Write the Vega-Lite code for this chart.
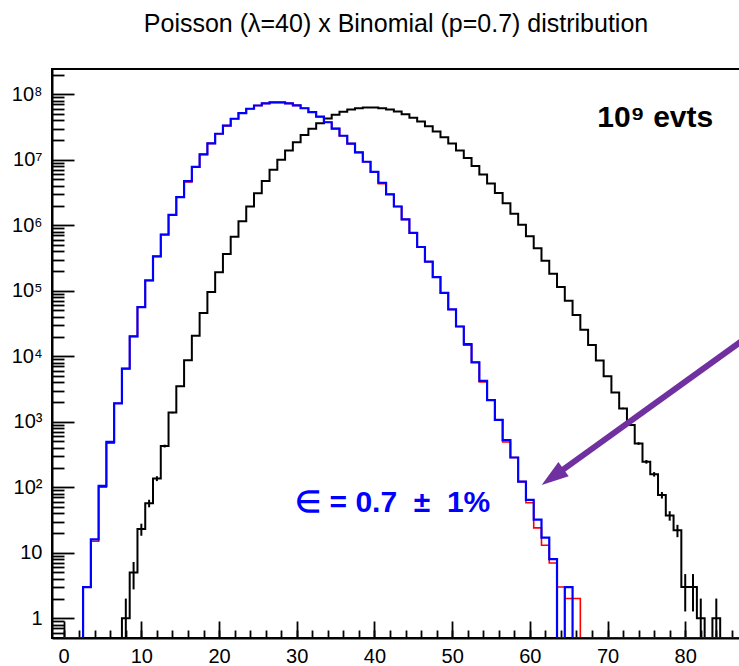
{
  "$schema": "https://vega.github.io/schema/vega-lite/v6.json",
  "width": 688,
  "height": 569,
  "autosize": {"type": "none"},
  "padding": {"left": 52, "top": 69, "right": 0, "bottom": 28},
  "background": "white",
  "title": {"text": "Poisson (λ=40) x Binomial (p=0.7) distribution", "font": "Liberation Sans", "fontSize": 25, "fontWeight": "normal", "color": "black", "anchor": "middle", "baseline": "alphabetic", "offset": 12},
  "config": {"font": "Liberation Sans", "view": {"stroke": "black", "strokeWidth": 2}},
  "resolve": {"axis": {"x": "independent", "y": "independent"}},
  "datasets": {
    "black": [
      {"k":0,"n":0},{"k":1,"n":0},{"k":2,"n":0},{"k":3,"n":0},{"k":4,"n":0},{"k":5,"n":0},{"k":6,"n":0},{"k":7,"n":0},
      {"k":8,"n":1},{"k":9,"n":5},{"k":10,"n":23},{"k":11,"n":57},{"k":12,"n":136},{"k":13,"n":426},{"k":14,"n":1380},
      {"k":15,"n":3488},{"k":16,"n":8721},{"k":17,"n":20521},{"k":18,"n":45602},{"k":19,"n":96004},{"k":20,"n":192008},
      {"k":21,"n":365730},{"k":22,"n":664964},{"k":23,"n":1156459},{"k":24,"n":1927431},{"k":25,"n":3083890},
      {"k":26,"n":4744446},{"k":27,"n":7028809},{"k":28,"n":10041156},{"k":29,"n":13849870},{"k":30,"n":18466493},
      {"k":31,"n":23827733},{"k":32,"n":29784666},{"k":33,"n":36102626},{"k":34,"n":42473678},{"k":35,"n":48541346},
      {"k":36,"n":53934829},{"k":37,"n":58307924},{"k":38,"n":61376762},{"k":39,"n":62950525},{"k":40,"n":62950525},
      {"k":41,"n":61415146},{"k":42,"n":58490615},{"k":43,"n":54409874},{"k":44,"n":49463522},{"k":45,"n":43967575},
      {"k":46,"n":38232674},{"k":47,"n":32538446},{"k":48,"n":27115372},{"k":49,"n":22134998},{"k":50,"n":17707998},
      {"k":51,"n":13888626},{"k":52,"n":10683559},{"k":53,"n":8063063},{"k":54,"n":5972639},{"k":55,"n":4343737},
      {"k":56,"n":3102669},{"k":57,"n":2177312},{"k":58,"n":1501595},{"k":59,"n":1018031},{"k":60,"n":678687},
      {"k":61,"n":445041},{"k":62,"n":287123},{"k":63,"n":182300},{"k":64,"n":113938},{"k":65,"n":70115},
      {"k":66,"n":42494},{"k":67,"n":25369},{"k":68,"n":14923},{"k":69,"n":8651},{"k":70,"n":4943},
      {"k":71,"n":2800},{"k":72,"n":1600},{"k":73,"n":890},{"k":74,"n":465},{"k":75,"n":245},
      {"k":76,"n":158},{"k":77,"n":76},{"k":78,"n":37},{"k":79,"n":22},{"k":80,"n":3},
      {"k":81,"n":3},{"k":82,"n":1},{"k":83,"n":0},{"k":84,"n":1},{"k":85,"n":0},{"k":86,"n":0},{"k":87,"n":0},{"k":88,"n":0}
    ],
    "blackErr": [
      {"k":8,"lo":0,"hi":2},{"k":9,"lo":2.76,"hi":7.24},{"k":10,"lo":18.2,"hi":27.8},{"k":11,"lo":49.5,"hi":64.5},
      {"k":12,"lo":124.3,"hi":147.7},{"k":13,"lo":405,"hi":447},{"k":14,"lo":1343,"hi":1417},{"k":15,"lo":3429,"hi":3547},
      {"k":16,"lo":8628,"hi":8814},{"k":68,"lo":14801,"hi":15045},{"k":69,"lo":8558,"hi":8744},{"k":70,"lo":4873,"hi":5013},
      {"k":71,"lo":2747,"hi":2853},{"k":72,"lo":1560,"hi":1640},{"k":73,"lo":860,"hi":920},{"k":74,"lo":443.4,"hi":486.6},
      {"k":75,"lo":229.3,"hi":260.7},{"k":76,"lo":145.4,"hi":170.6},{"k":77,"lo":67.3,"hi":84.7},{"k":78,"lo":30.9,"hi":43.1},
      {"k":79,"lo":17.3,"hi":26.7},{"k":80,"lo":1.27,"hi":4.73},{"k":81,"lo":1.27,"hi":4.73},{"k":82,"lo":0,"hi":2},{"k":84,"lo":0,"hi":2}
    ],
    "red": [
      {"k":0,"n":0},{"k":1,"n":0},{"k":2,"n":0},{"k":3,"n":3},{"k":4,"n":15},{"k":5,"n":100},{"k":6,"n":470},{"k":7,"n":1915},
      {"k":8,"n":6478},{"k":9,"n":20155},{"k":10,"n":56434},{"k":11,"n":143650},{"k":12,"n":335184},{"k":13,"n":721935},
      {"k":14,"n":1443870},{"k":15,"n":2695224},{"k":16,"n":4600000},{"k":17,"n":7768587},{"k":18,"n":12084469},
      {"k":19,"n":17808691},{"k":20,"n":24932167},{"k":21,"n":33242889},{"k":22,"n":42309131},{"k":23,"n":51506333},
      {"k":24,"n":60090722},{"k":25,"n":67301609},{"k":26,"n":72478656},{"k":27,"n":75162680},{"k":28,"n":75162680},
      {"k":29,"n":72570864},{"k":30,"n":67732806},{"k":31,"n":61177373},{"k":32,"n":53530201},{"k":33,"n":45419262},
      {"k":34,"n":37404098},{"k":35,"n":29923278},{"k":36,"n":23273661},{"k":37,"n":17612500},{"k":38,"n":12977632},
      {"k":39,"n":9317274},{"k":40,"n":6522092},{"k":41,"n":4300000},{"k":42,"n":2969408},{"k":43,"n":1933568},
      {"k":44,"n":1230452},{"k":45,"n":765614},{"k":46,"n":466026},{"k":47,"n":277633},{"k":48,"n":161953},
      {"k":49,"n":92545},{"k":50,"n":51825},{"k":51,"n":28453},{"k":52,"n":14800},{"k":53,"n":8094},{"k":54,"n":4050},
      {"k":55,"n":2137},{"k":56,"n":1068},{"k":57,"n":490},{"k":58,"n":285},{"k":59,"n":122},{"k":60,"n":58},
      {"k":61,"n":24},{"k":62,"n":13},{"k":63,"n":7},{"k":64,"n":3},{"k":65,"n":2},{"k":66,"n":2},{"k":67,"n":0},
      {"k":68,"n":0},{"k":69,"n":0},{"k":70,"n":0},{"k":75,"n":0},{"k":80,"n":0},{"k":85,"n":0},{"k":88,"n":0}
    ],
    "blue": [
      {"k":0,"n":0},{"k":1,"n":0},{"k":2,"n":0},{"k":3,"n":3},{"k":4,"n":16},{"k":5,"n":105},{"k":6,"n":494},{"k":7,"n":1915},
      {"k":8,"n":6478},{"k":9,"n":20155},{"k":10,"n":56434},{"k":11,"n":143650},{"k":12,"n":335184},{"k":13,"n":721935},
      {"k":14,"n":1443870},{"k":15,"n":2695224},{"k":16,"n":4716642},{"k":17,"n":7768587},{"k":18,"n":12084469},
      {"k":19,"n":17808691},{"k":20,"n":24932167},{"k":21,"n":33242889},{"k":22,"n":42309131},{"k":23,"n":51506333},
      {"k":24,"n":60090722},{"k":25,"n":67301609},{"k":26,"n":72478656},{"k":27,"n":75162680},{"k":28,"n":75162680},
      {"k":29,"n":72570864},{"k":30,"n":67732806},{"k":31,"n":61177373},{"k":32,"n":53530201},{"k":33,"n":45419262},
      {"k":34,"n":37404098},{"k":35,"n":29923278},{"k":36,"n":23273661},{"k":37,"n":17612500},{"k":38,"n":12977632},
      {"k":39,"n":9317274},{"k":40,"n":6522092},{"k":41,"n":4454112},{"k":42,"n":2969408},{"k":43,"n":1933568},
      {"k":44,"n":1230452},{"k":45,"n":765614},{"k":46,"n":466026},{"k":47,"n":277633},{"k":48,"n":161953},
      {"k":49,"n":92545},{"k":50,"n":51825},{"k":51,"n":28453},{"k":52,"n":15321},{"k":53,"n":8094},{"k":54,"n":4197},
      {"k":55,"n":2137},{"k":56,"n":1068},{"k":57,"n":525},{"k":58,"n":285},{"k":59,"n":122},{"k":60,"n":64},
      {"k":61,"n":32},{"k":62,"n":17},{"k":63,"n":8},{"k":64,"n":0},{"k":65,"n":3},{"k":66,"n":0},{"k":67,"n":0},
      {"k":68,"n":0},{"k":69,"n":0},{"k":70,"n":0},{"k":75,"n":0},{"k":80,"n":0},{"k":85,"n":0},{"k":88,"n":0}
    ]
  },
  "layer": [
    {
      "data": {"name": "black"},
      "mark": {"type": "line", "interpolate": "step", "color": "black", "strokeWidth": 2, "clip": true},
      "encoding": {
        "x": {"field": "k", "type": "quantitative",
              "scale": {"domain": [-1.5, 87.05], "nice": false, "zero": false},
              "axis": {"title": null, "grid": false, "orient": "bottom", "values": [0,10,20,30,40,50,60,70,80],
                       "tickSize": -17, "tickColor": "black", "tickWidth": 1.8, "domainColor": "black", "domainWidth": 2,
                       "labelFont": "Liberation Sans", "labelFontSize": 20, "labelColor": "black", "labelPadding": 25,
                       "labelOverlap": false, "labelFlush": false}},
        "y": {"field": "n", "type": "quantitative",
              "scale": {"type": "log", "domain": [0.5, 243000000], "nice": false, "clamp": true},
              "axis": {"title": null, "grid": false, "orient": "left",
                       "values": [1,10,100,1000,10000,100000,1000000,10000000,100000000],
                       "tickSize": -22, "tickColor": "black", "tickWidth": 1.8, "domainColor": "black", "domainWidth": 2,
                       "labelFont": "Liberation Sans", "labelFontSize": 20, "labelColor": "black", "labelPadding": 32,
                       "labelOverlap": false, "labelFlush": false,
                       "labelExpr": "round(log(datum.value)/LN10) == 0 ? '1' : (round(log(datum.value)/LN10) == 1 ? '10' : '10' + substring('⁰¹²³⁴⁵⁶⁷⁸⁹', round(log(datum.value)/LN10), round(log(datum.value)/LN10) + 1))"}}
      }
    },
    {
      "data": {"name": "blackErr"},
      "mark": {"type": "rule", "color": "black", "strokeWidth": 2, "clip": true},
      "encoding": {
        "x": {"field": "k", "type": "quantitative", "scale": {"domain": [-1.5, 87.05], "nice": false, "zero": false},
              "axis": {"title": null, "grid": false, "orient": "bottom", "labels": false, "domain": false,
                       "values": [0,2,4,6,8,10,12,14,16,18,20,22,24,26,28,30,32,34,36,38,40,42,44,46,48,50,52,54,56,58,60,62,64,66,68,70,72,74,76,78,80,82,84,86],
                       "tickSize": -8, "tickColor": "black", "tickWidth": 1.8}},
        "y": {"field": "lo", "type": "quantitative", "scale": {"type": "log", "domain": [0.5, 243000000], "nice": false, "clamp": true},
              "axis": {"title": null, "grid": false, "orient": "left", "labels": false, "domain": false,
                       "values": [0.6,0.7,0.8,0.9,2,3,4,5,6,7,8,9,20,30,40,50,60,70,80,90,200,300,400,500,600,700,800,900,2000,3000,4000,5000,6000,7000,8000,9000,20000,30000,40000,50000,60000,70000,80000,90000,200000,300000,400000,500000,600000,700000,800000,900000,2000000,3000000,4000000,5000000,6000000,7000000,8000000,9000000,20000000,30000000,40000000,50000000,60000000,70000000,80000000,90000000,200000000],
                       "tickSize": -12, "tickColor": "black", "tickWidth": 1.8}},
        "y2": {"field": "hi"}
      }
    },
    {
      "data": {"name": "red"},
      "mark": {"type": "line", "interpolate": "step", "color": "#ff0000", "strokeWidth": 1.6, "clip": true},
      "encoding": {
        "x": {"field": "k", "type": "quantitative", "scale": {"domain": [-1.5, 87.05], "nice": false, "zero": false}, "axis": null},
        "y": {"field": "n", "type": "quantitative", "scale": {"type": "log", "domain": [0.5, 243000000], "nice": false, "clamp": true}, "axis": null}
      }
    },
    {
      "data": {"name": "blue"},
      "mark": {"type": "line", "interpolate": "step", "color": "#0000ff", "strokeWidth": 2.2, "clip": true},
      "encoding": {
        "x": {"field": "k", "type": "quantitative", "scale": {"domain": [-1.5, 87.05], "nice": false, "zero": false}, "axis": null},
        "y": {"field": "n", "type": "quantitative", "scale": {"type": "log", "domain": [0.5, 243000000], "nice": false, "clamp": true}, "axis": null}
      }
    },
    {
      "data": {"values": [{}]},
      "mark": {"type": "rule", "color": "#7030a0", "strokeWidth": 6, "clip": true, "strokeCap": "butt"},
      "encoding": {
        "x": {"datum": 88, "axis": null}, "y": {"datum": 19700, "axis": null},
        "x2": {"datum": 63.6}, "y2": {"datum": 163}
      }
    },
    {
      "data": {"values": [{}]},
      "mark": {"type": "point", "shape": "M0,0L0.65,2L-0.65,2Z", "size": 729, "angle": 234.2, "filled": true, "color": "#7030a0", "opacity": 1, "strokeWidth": 0},
      "encoding": {"x": {"datum": 61.52, "axis": null}, "y": {"datum": 108.4, "axis": null}}
    },
    {
      "data": {"values": [{}]},
      "mark": {"type": "text", "text": "10⁹ evts", "font": "Liberation Sans", "fontSize": 30, "fontWeight": "bold", "color": "black", "align": "right", "baseline": "alphabetic"},
      "encoding": {"x": {"datum": 83.6, "axis": null}, "y": {"datum": 32000000, "axis": null}}
    },
    {
      "data": {"values": [{}]},
      "mark": {"type": "text", "text": "∈ = 0.7\u00a0\u00a0±\u00a0\u00a01%", "font": "Liberation Sans", "fontSize": 30, "fontWeight": "bold", "color": "#0000ff", "align": "left", "baseline": "alphabetic"},
      "encoding": {"x": {"datum": 29.8, "axis": null}, "y": {"datum": 42.4, "axis": null}}
    }
  ]
}
